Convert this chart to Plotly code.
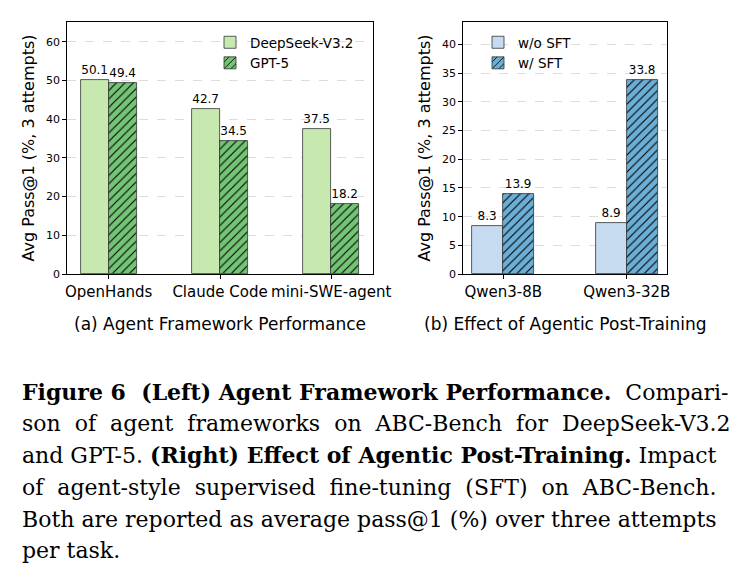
import plotly.graph_objects as go

# ---- data ----
frameworks = ["OpenHands", "Claude Code", "mini-SWE-agent"]
deepseek_v32 = [50.1, 42.7, 37.5]
gpt5 = [49.4, 34.5, 18.2]

qwen_models = ["Qwen3-8B", "Qwen3-32B"]
wo_sft = [8.3, 8.9]
w_sft = [13.9, 33.8]

left_ticks = [0, 10, 20, 30, 40, 50, 60]
right_ticks = [0, 5, 10, 15, 20, 25, 30, 35, 40]

caption_lines = [
    "<b>Figure 6  (Left) Agent Framework Performance.</b>  Compari-",
    "son of agent frameworks on ABC-Bench for DeepSeek-V3.2",
    "and GPT-5. <b>(Right) Effect of Agentic Post-Training.</b> Impact",
    "of agent-style supervised fine-tuning (SFT) on ABC-Bench.",
    "Both are reported as average pass@1 (%) over three attempts",
    "per task.",
]
# extra word spacing per line to imitate the justified caption
caption_extra_space = [0, 1, 0, 1, 0, 0]

W, H = 741, 582
FONT = "DejaVu Sans"
BW = 0.25
EDGE = dict(color="#333333", width=0.8)

LG, DG = "#c7e9b0", "#74c476"
LB, DB = "#c6dbef", "#6baed6"


def fmt(v):
    return [f"{x:.1f}" for x in v]


fig = go.Figure()

xl = list(range(len(frameworks)))
fig.add_trace(go.Bar(
    x=xl, y=deepseek_v32, width=BW, offset=-BW, name="DeepSeek-V3.2",
    marker=dict(color=LG, line=EDGE), text=fmt(deepseek_v32),
    textposition="outside", textfont=dict(family=FONT, size=12, color="black"),
    constraintext="none", cliponaxis=False, xaxis="x", yaxis="y", legend="legend",
))
fig.add_trace(go.Bar(
    x=xl, y=gpt5, width=BW, offset=0, name="GPT-5",
    marker=dict(color=DG, line=EDGE,
                pattern=dict(shape="/", fgcolor="black", bgcolor=DG, size=6, solidity=0.18, fillmode="replace")),
    text=fmt(gpt5),
    textposition="outside", textfont=dict(family=FONT, size=12, color="black"),
    constraintext="none", cliponaxis=False, xaxis="x", yaxis="y", legend="legend",
))

xr = list(range(len(qwen_models)))
fig.add_trace(go.Bar(
    x=xr, y=wo_sft, width=BW, offset=-BW, name="w/o SFT",
    marker=dict(color=LB, line=EDGE), text=fmt(wo_sft),
    textposition="outside", textfont=dict(family=FONT, size=12, color="black"),
    constraintext="none", cliponaxis=False, xaxis="x2", yaxis="y2", legend="legend2",
))
fig.add_trace(go.Bar(
    x=xr, y=w_sft, width=BW, offset=0, name="w/ SFT",
    marker=dict(color=DB, line=EDGE,
                pattern=dict(shape="/", fgcolor="black", bgcolor=DB, size=6, solidity=0.18, fillmode="replace")),
    text=fmt(w_sft),
    textposition="outside", textfont=dict(family=FONT, size=12, color="black"),
    constraintext="none", cliponaxis=False, xaxis="x2", yaxis="y2", legend="legend2",
))

ydom = [1 - 274 / H, 1 - 22 / H]
axis_common = dict(showline=True, linecolor="black", linewidth=0.8, mirror=True,
                   ticks="outside", ticklen=4, tickwidth=0.8, tickcolor="black",
                   zeroline=False, automargin=False)
xtickfont = dict(family=FONT, size=15, color="black")
ytickfont = dict(family=FONT, size=11, color="black")

ymax_l = max(deepseek_v32 + gpt5) * 1.3
ymax_r = max(wo_sft + w_sft) * 1.3

fig.update_layout(
    width=W, height=H, margin=dict(l=0, r=0, t=0, b=0, autoexpand=False),
    paper_bgcolor="white", plot_bgcolor="white",
    barmode="overlay", bargap=0,
    font=dict(family=FONT, color="black"),
    xaxis=dict(domain=[67 / W, 373 / W], range=[-0.375, len(frameworks) - 1 + 0.375],
               tickvals=xl, ticktext=frameworks, showgrid=False, tickangle=0,
               tickfont=xtickfont, **axis_common),
    yaxis=dict(domain=ydom, range=[0, ymax_l], tickvals=left_ticks,
               showgrid=True, gridcolor="#dddddd", griddash="dash", gridwidth=0.6,
               title=dict(text="Avg Pass@1 (%, 3 attempts)", font=dict(family=FONT, size=16), standoff=7),
               tickfont=ytickfont, **axis_common),
    xaxis2=dict(domain=[463 / W, 667 / W], range=[-0.325, len(qwen_models) - 1 + 0.325],
                tickvals=xr, ticktext=qwen_models, showgrid=False, anchor="y2", tickangle=0,
                tickfont=xtickfont, **axis_common),
    yaxis2=dict(domain=ydom, range=[0, ymax_r], tickvals=right_ticks, anchor="x2",
                showgrid=True, gridcolor="#dddddd", griddash="dash", gridwidth=0.6,
                title=dict(text="Avg Pass@1 (%, 3 attempts)", font=dict(family=FONT, size=16), standoff=7),
                tickfont=ytickfont, **axis_common),
    legend=dict(x=210 / W, y=1 - 27 / H, xanchor="left", yanchor="top",
                bgcolor="rgba(0,0,0,0)", font=dict(family=FONT, size=13.5), itemwidth=30,
                tracegroupgap=4),
    legend2=dict(x=478 / W, y=1 - 27 / H, xanchor="left", yanchor="top",
                 bgcolor="rgba(0,0,0,0)", font=dict(family=FONT, size=13.5), itemwidth=30,
                 tracegroupgap=4),
)

# subplot captions
fig.add_annotation(text="(a) Agent Framework Performance", x=220 / W, y=1 - 324 / H,
                   xref="paper", yref="paper", showarrow=False, xanchor="center", yanchor="middle",
                   font=dict(family=FONT, size=17, color="black"))
fig.add_annotation(text="(b) Effect of Agentic Post-Training", x=565 / W, y=1 - 324 / H,
                   xref="paper", yref="paper", showarrow=False, xanchor="center", yanchor="middle",
                   font=dict(family=FONT, size=17, color="black"))

cap_y = [392, 423, 455, 487, 519, 550]
for line, extra, yy in zip(caption_lines, caption_extra_space, cap_y):
    if extra:
        line = line.replace(" ", " " + "&nbsp;" * extra)
    fig.add_annotation(text=line, x=20 / W, y=1 - yy / H, xref="paper", yref="paper",
                       showarrow=False, xanchor="left", yanchor="middle", align="left",
                       font=dict(family="DejaVu Serif", size=22, color="black"))

fig.write_html("out.html")
